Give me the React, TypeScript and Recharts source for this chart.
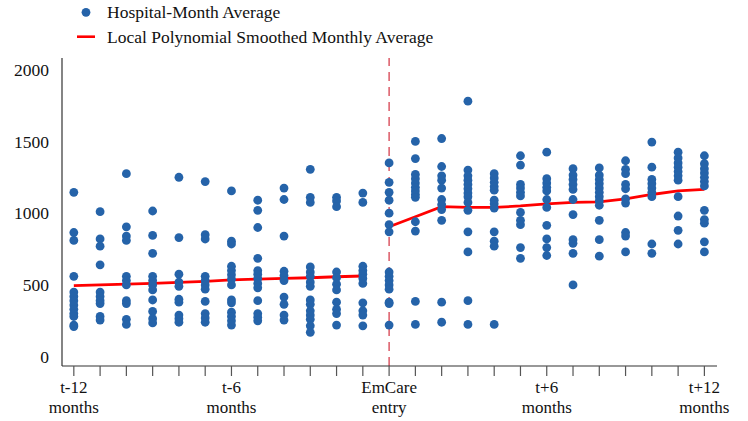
import React from "react"
import { ComposedChart, Scatter, Line, XAxis, YAxis, ReferenceLine } from "recharts"

// month offsets relative to EmCare entry
const months = [-12, -11, -10, -9, -8, -7, -6, -5, -4, -3, -2, -1, 0, 1, 2, 3, 4, 5, 6, 7, 8, 9, 10, 11, 12]

// hospital-month averages, one list per month (same order as `months`)
const hospitalValues: number[][] = [
  [1145, 865, 810, 560, 450, 420, 390, 360, 330, 300, 280, 220, 210],
  [1010, 820, 770, 640, 450, 420, 390, 370, 280, 255],
  [1275, 905, 840, 810, 560, 530, 500, 390, 370, 260, 225],
  [1015, 845, 720, 560, 530, 500, 465, 395, 315, 265, 235],
  [1250, 830, 575, 520, 490, 400, 380, 290, 265, 240],
  [1220, 850, 820, 560, 530, 500, 470, 385, 300, 270, 240],
  [1155, 805, 785, 630, 600, 570, 540, 500, 395, 375, 310, 280, 250, 220],
  [1090, 1020, 900, 685, 600, 575, 545, 510, 480, 390, 300, 275, 250],
  [1175, 1095, 840, 595, 565, 530, 415, 365, 290, 255],
  [1305, 1110, 1075, 625, 590, 560, 520, 490, 395, 365, 320, 290, 260, 215, 170],
  [1110, 1085, 1045, 590, 550, 505, 465, 380, 330, 300, 220],
  [1140, 1075, 630, 600, 575, 545, 510, 375, 320, 290, 215],
  [1350, 1215, 1145, 1090, 1000, 920, 870, 590, 560, 530, 500, 470, 380, 370, 220],
  [1500, 1380, 1270, 1240, 1210, 1180, 1155, 1130, 1110, 940, 875, 385, 225],
  [1520, 1325, 1260, 1230, 1175, 1095, 1060, 1025, 950, 380, 240],
  [1780, 1300, 1260, 1230, 1200, 1170, 1140, 1115, 1075, 1020, 870, 730, 390, 225],
  [1275, 1245, 1215, 1185, 1160, 1090, 1065, 1035, 870, 805, 770, 225],
  [1400, 1335, 1200, 1175, 1145, 1120, 1005, 950, 920, 760, 685],
  [1425, 1240, 1210, 1180, 1155, 1095, 1040, 915, 820, 760, 705],
  [1310, 1265, 1235, 1200, 1165, 1095, 990, 815, 790, 720, 500],
  [1315, 1265, 1235, 1205, 1175, 1145, 1115, 1085, 1055, 950, 815, 700],
  [1365, 1305, 1275, 1200, 1170, 1100, 1070, 865, 840, 730],
  [1495, 1320, 1235, 1205, 1175, 1145, 1115, 785, 720],
  [1425, 1385, 1350, 1320, 1290, 1260, 1230, 1115, 980, 880, 785],
  [1400, 1345, 1310, 1280, 1250, 1220, 1190, 1020, 955, 930, 800, 730],
]

// local polynomial smoothed averages
const preMonths = [-12, -11, -10, -9, -8, -7, -6, -5, -4, -3, -2, -1]
const preSmooth = [495, 500, 505, 510, 517, 525, 535, 540, 545, 550, 557, 562]
const postMonths = [0, 1, 2, 3, 4, 5, 6, 7, 8, 9, 10, 11, 12]
const postSmooth = [905, 975, 1045, 1040, 1040, 1050, 1065, 1075, 1078, 1100, 1130, 1155, 1165]

const yTicks = [0, 500, 1000, 1500, 2000]
const labelledMonths = [-12, -6, 0, 6, 12]
const tickLabels = [
  ["t-12", "months"],
  ["t-6", "months"],
  ["EmCare", "entry"],
  ["t+6", "months"],
  ["t+12", "months"],
]

const FONT = "'Liberation Serif', 'Times New Roman', serif"
const BLUE = "#2563a9"

const scatterData = months.flatMap((m, i) => hospitalValues[i].map((v) => ({ month: m, value: v })))
const preData = preMonths.map((m, i) => ({ month: m, smooth: preSmooth[i] }))
const postData = postMonths.map((m, i) => ({ month: m, smooth: postSmooth[i] }))

function MonthTick(props: any) {
  const { x, y, payload } = props
  const idx = labelledMonths.indexOf(payload.value)
  if (idx < 0) return null
  const [a, b] = tickLabels[idx]
  return (
    <g fontFamily={FONT} fontSize={17} fill="#111" textAnchor="middle">
      <text x={x} y={y + 15}>
        {a}
      </text>
      <text x={x} y={y + 35}>
        {b}
      </text>
    </g>
  )
}

function Dot(props: any) {
  return <circle cx={props.cx} cy={props.cy} r={4.4} fill={BLUE} />
}

export default function App() {
  return (
    <div style={{ position: "absolute", left: 0, top: 0, width: 748, height: 421, background: "#fff" }}>
      <svg width={748} height={56} style={{ position: "absolute", left: 0, top: 0 }}>
        <circle cx={86} cy={12.3} r={4.4} fill={BLUE} />
        <text x={107} y={12} dy="0.35em" fontFamily={FONT} fontSize={17.5} fill="#111">
          Hospital-Month Average
        </text>
        <line x1={77} x2={95} y1={36.7} y2={36.7} stroke="#ff0000" strokeWidth={2.6} />
        <text x={107} y={37} dy="0.35em" fontFamily={FONT} fontSize={17.5} fill="#111">
          Local Polynomial Smoothed Monthly Average
        </text>
      </svg>
      <ComposedChart width={748} height={421} margin={{ top: 58, right: 31, left: 0, bottom: 0 }}>
        <XAxis
          type="number"
          dataKey="month"
          domain={[-12.45, 12.48]}
          ticks={months}
          interval={0}
          allowDataOverflow
          height={55}
          tickSize={10}
          tickMargin={2}
          axisLine={{ stroke: "#333", strokeWidth: 1.2 }}
          tickLine={{ stroke: "#555", strokeWidth: 1.2 }}
          tick={<MonthTick />}
        />
        <YAxis
          type="number"
          dataKey="value"
          domain={[-65, 2081]}
          ticks={yTicks}
          allowDataOverflow
          width={62}
          tickLine={false}
          tickSize={6}
          tickMargin={7}
          axisLine={{ stroke: "#333", strokeWidth: 1.2 }}
          tick={{ fontFamily: FONT, fontSize: 17.5, fill: "#111" }}
        />
        <ReferenceLine x={0} stroke="#d6404f" strokeWidth={1.3} strokeDasharray="9 6" />
        <Scatter data={scatterData} dataKey="value" shape={<Dot />} isAnimationActive={false} />
        <Line
          data={preData}
          dataKey="smooth"
          type="linear"
          stroke="#ff0000"
          strokeWidth={2.8}
          dot={false}
          activeDot={false}
          isAnimationActive={false}
        />
        <Line
          data={postData}
          dataKey="smooth"
          type="linear"
          stroke="#ff0000"
          strokeWidth={2.8}
          dot={false}
          activeDot={false}
          isAnimationActive={false}
        />
      </ComposedChart>
    </div>
  )
}
